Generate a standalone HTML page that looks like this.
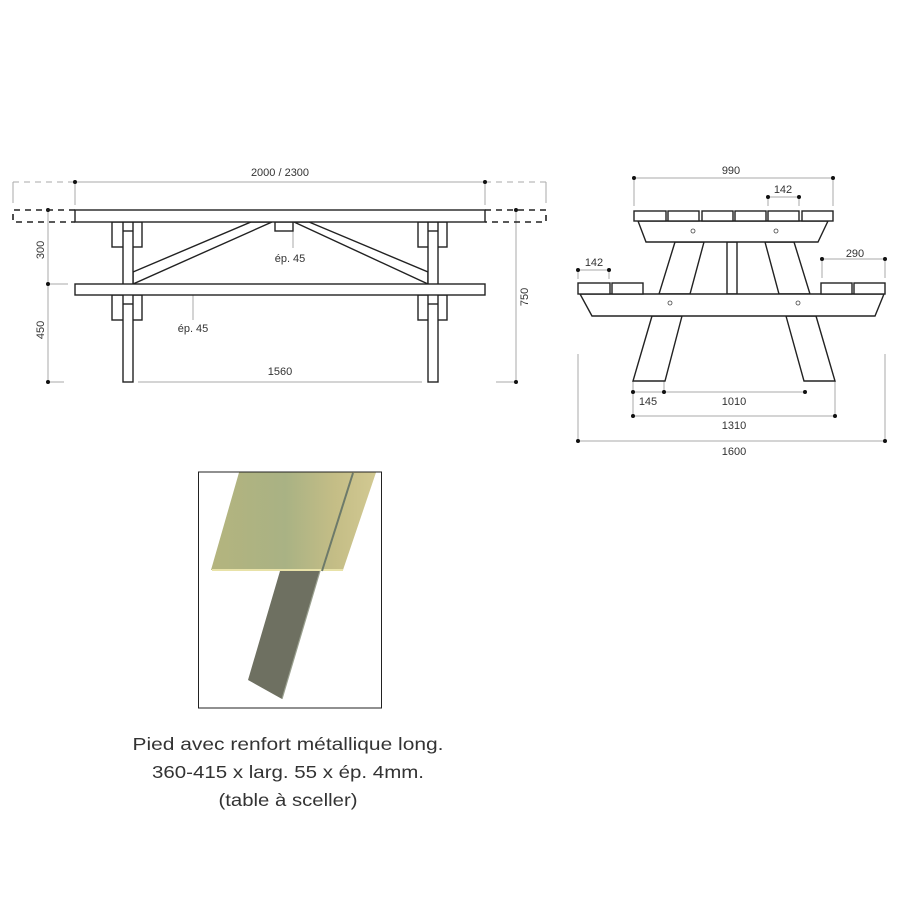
<!DOCTYPE html>
<html><head><meta charset="utf-8"><style>
html,body{margin:0;padding:0;background:#fff;}
svg{display:block;}
.t{font-family:"Liberation Sans",sans-serif;font-size:11px;fill:#333;}
.c{font-family:"Liberation Sans",sans-serif;font-size:17.5px;fill:#333;}
</style></head><body>
<svg width="900" height="900" viewBox="0 0 900 900" xmlns="http://www.w3.org/2000/svg">
<rect width="900" height="900" fill="#fff"/>
<!-- LEFT VIEW -->
<g stroke="#aaa" stroke-width="1" fill="none">
  <line x1="13" y1="182" x2="75" y2="182" stroke-dasharray="6,5"/>
  <line x1="75" y1="182" x2="485" y2="182"/>
  <line x1="485" y1="182" x2="546" y2="182" stroke-dasharray="6,5"/>
  <line x1="13" y1="182" x2="13" y2="203"/>
  <line x1="546" y1="182" x2="546" y2="203"/>
  <line x1="75" y1="182" x2="75" y2="205"/>
  <line x1="485" y1="182" x2="485" y2="205"/>
  <line x1="48" y1="210" x2="48" y2="382"/>
  <line x1="48" y1="284" x2="68" y2="284"/>
  <line x1="48" y1="382" x2="64" y2="382"/>
  <line x1="516" y1="210" x2="516" y2="382"/>
  <line x1="496" y1="382" x2="516" y2="382"/>
  <line x1="138" y1="382" x2="422" y2="382"/>
  <line x1="293" y1="217" x2="293" y2="248"/>
  <line x1="193" y1="295" x2="193" y2="320"/>
</g>
<g fill="#111">
  <circle cx="75" cy="182" r="2"/><circle cx="485" cy="182" r="2"/>
  <circle cx="48" cy="210" r="2"/><circle cx="48" cy="284" r="2"/><circle cx="48" cy="382" r="2"/>
  <circle cx="516" cy="210" r="2"/><circle cx="516" cy="382" r="2"/>
</g>
<g stroke="#222" stroke-width="1.6" fill="none">
  <path d="M75 210 H13 V222 H75" stroke-dasharray="6,5"/>
  <path d="M485 210 H546 V222 H485" stroke-dasharray="6,5"/>
</g>
<g stroke="#222" stroke-width="1.4" fill="#fff">
  <!-- braces -->
  <polygon points="133,272 251,222 272,222 133,284"/>
  <polygon points="309,222 428,272 428,284 294,222"/>
  <!-- blocks -->
  <rect x="112" y="222" width="30" height="25"/>
  <rect x="112" y="295" width="30" height="25"/>
  <rect x="418" y="222" width="29" height="25"/>
  <rect x="418" y="295" width="29" height="25"/>
  <!-- legs -->
  <rect x="123" y="222" width="10" height="160"/>
  <rect x="428" y="222" width="10" height="160"/>
  <line x1="123" y1="231" x2="133" y2="231"/>
  <line x1="428" y1="231" x2="438" y2="231"/>
  <line x1="123" y1="304" x2="133" y2="304"/>
  <line x1="428" y1="304" x2="438" y2="304"/>
  <rect x="275" y="222" width="18" height="9"/>
  <rect x="75" y="210" width="410" height="12"/>
  <rect x="75" y="284" width="410" height="11"/>
</g>
<text class="t" x="280" y="176" text-anchor="middle">2000 / 2300</text>
<text class="t" x="290" y="262" text-anchor="middle">ép. 45</text>
<text class="t" x="193" y="332" text-anchor="middle">ép. 45</text>
<text class="t" x="280" y="375" text-anchor="middle">1560</text>
<text class="t" transform="translate(44,250) rotate(-90)" text-anchor="middle">300</text>
<text class="t" transform="translate(44,330) rotate(-90)" text-anchor="middle">450</text>
<text class="t" transform="translate(528,297) rotate(-90)" text-anchor="middle">750</text>

<!-- RIGHT VIEW -->
<g stroke="#aaa" stroke-width="1" fill="none">
  <line x1="634" y1="178" x2="833" y2="178"/>
  <line x1="634" y1="178" x2="634" y2="206"/>
  <line x1="833" y1="178" x2="833" y2="206"/>
  <line x1="768" y1="197" x2="799" y2="197"/>
  <line x1="768" y1="197" x2="768" y2="206"/>
  <line x1="799" y1="197" x2="799" y2="206"/>
  <line x1="578" y1="270" x2="609" y2="270"/>
  <line x1="578" y1="270" x2="578" y2="279"/>
  <line x1="609" y1="270" x2="609" y2="279"/>
  <line x1="822" y1="259" x2="885" y2="259"/>
  <line x1="822" y1="259" x2="822" y2="278"/>
  <line x1="885" y1="259" x2="885" y2="278"/>
  <line x1="633" y1="392" x2="805" y2="392"/>
  <line x1="633" y1="381" x2="633" y2="416"/>
  <line x1="664" y1="381" x2="664" y2="392"/>
  <line x1="835" y1="381" x2="835" y2="416"/>
  <line x1="633" y1="416" x2="835" y2="416"/>
  <line x1="578" y1="354" x2="578" y2="441"/>
  <line x1="885" y1="354" x2="885" y2="441"/>
  <line x1="578" y1="441" x2="885" y2="441"/>
</g>
<g fill="#111">
  <circle cx="634" cy="178" r="2"/><circle cx="833" cy="178" r="2"/>
  <circle cx="768" cy="197" r="2"/><circle cx="799" cy="197" r="2"/>
  <circle cx="578" cy="270" r="2"/><circle cx="609" cy="270" r="2"/>
  <circle cx="822" cy="259" r="2"/><circle cx="885" cy="259" r="2"/>
  <circle cx="633" cy="392" r="2"/><circle cx="664" cy="392" r="2"/><circle cx="805" cy="392" r="2"/>
  <circle cx="633" cy="416" r="2"/><circle cx="835" cy="416" r="2"/>
  <circle cx="578" cy="441" r="2"/><circle cx="885" cy="441" r="2"/>
</g>
<g stroke="#222" stroke-width="1.4" fill="#fff">
  <polygon points="675,242 704,242 690,294 659,294"/>
  <polygon points="765,242 794,242 810,294 779,294"/>
  <rect x="727" y="242" width="10" height="52"/>
  <polygon points="652,316 682,316 665,381 633,381"/>
  <polygon points="786,316 816,316 835,381 804,381"/>
  <polygon points="638,221 828,221 818,242 646,242"/>
  <polygon points="580,294 884,294 875,316 592,316"/>
  <rect x="634" y="211" width="32" height="10"/>
  <rect x="668" y="211" width="31" height="10"/>
  <rect x="702" y="211" width="31" height="10"/>
  <rect x="735" y="211" width="31" height="10"/>
  <rect x="768" y="211" width="31" height="10"/>
  <rect x="802" y="211" width="31" height="10"/>
  <rect x="578" y="283" width="32" height="11"/>
  <rect x="612" y="283" width="31" height="11"/>
  <rect x="821" y="283" width="31" height="11"/>
  <rect x="854" y="283" width="31" height="11"/>
</g>
<g stroke="#444" stroke-width="0.8" fill="#fff">
  <circle cx="693" cy="231" r="2"/><circle cx="776" cy="231" r="2"/>
  <circle cx="670" cy="303" r="2"/><circle cx="798" cy="303" r="2"/>
</g>
<text class="t" x="731" y="174" text-anchor="middle">990</text>
<text class="t" x="783" y="193" text-anchor="middle">142</text>
<text class="t" x="594" y="266" text-anchor="middle">142</text>
<text class="t" x="855" y="257" text-anchor="middle">290</text>
<text class="t" x="648" y="405" text-anchor="middle">145</text>
<text class="t" x="734" y="405" text-anchor="middle">1010</text>
<text class="t" x="734" y="429" text-anchor="middle">1310</text>
<text class="t" x="734" y="455" text-anchor="middle">1600</text>

<!-- PHOTO -->
<defs>
  <linearGradient id="wood" x1="0" y1="0" x2="1" y2="0">
    <stop offset="0" stop-color="#b4b47e"/>
    <stop offset="0.45" stop-color="#a9b284"/>
    <stop offset="0.75" stop-color="#c4bd86"/>
    <stop offset="1" stop-color="#d2c992"/>
  </linearGradient>
</defs>
<rect x="198.5" y="472" width="183" height="236" fill="#fff" stroke="#222" stroke-width="1"/>
<polygon points="239,472.5 376,472.5 343,570 211,570" fill="url(#wood)"/>
<line x1="212" y1="570" x2="343" y2="570" stroke="#e8e2a8" stroke-width="2"/>
<line x1="353" y1="473" x2="322" y2="571" stroke="#6d7a6a" stroke-width="2"/>
<polygon points="280,571 320,571 282,699 248,680" fill="#6e7061"/>
<line x1="320" y1="571" x2="282" y2="699" stroke="#9aa08f" stroke-width="1.2"/>

<text class="c" x="288" y="750" text-anchor="middle" textLength="311" lengthAdjust="spacingAndGlyphs">Pied avec renfort métallique long.</text>
<text class="c" x="288" y="778" text-anchor="middle" textLength="272" lengthAdjust="spacingAndGlyphs">360-415 x larg. 55 x ép. 4mm.</text>
<text class="c" x="288" y="806" text-anchor="middle" textLength="139" lengthAdjust="spacingAndGlyphs">(table à sceller)</text>
</svg>
</body></html>
